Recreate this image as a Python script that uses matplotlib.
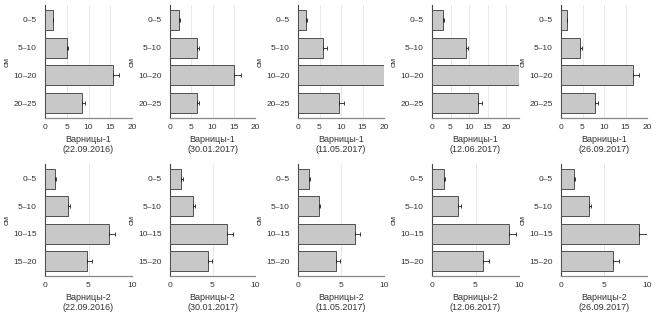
import matplotlib
matplotlib.use("Agg")
import matplotlib.pyplot as plt
import numpy as np

plt.rcParams["font.family"] = ["Liberation Sans", "DejaVu Sans"]

# ── Data ─────────────────────────────────────────────────────────────────────
dates = ["22.09.2016", "30.01.2017", "11.05.2017", "12.06.2017", "26.09.2017"]

site1_name = "Варницы-1"
site1_depths = ["0–5", "5–10", "10–20", "20–25"]
site1_means = [
    [1.75, 5.1, 15.7, 8.4],
    [2.1, 6.3, 15.1, 6.3],
    [1.95, 5.85, 20.0, 9.6],
    [3.0, 9.05, 23.5, 12.3],
    [1.3, 4.4, 16.7, 7.9],
]
site1_errs = [
    [0.2, 0.3, 1.4, 0.9],
    [0.2, 0.5, 1.5, 0.6],
    [0.2, 0.8, 0.0, 1.1],
    [0.25, 0.8, 0.0, 1.3],
    [0.2, 0.5, 1.5, 0.8],
]
site1_xmax = [20, 20, 20, 23.5, 20]

site2_name = "Варницы-2"
site2_depths = ["0–5", "5–10", "10–15", "15–20"]
site2_means = [
    [1.2, 2.7, 7.3, 4.85],
    [1.35, 2.65, 6.7, 4.45],
    [1.25, 2.4, 6.6, 4.4],
    [1.4, 3.0, 8.8, 5.85],
    [1.55, 3.2, 9.1, 6.05],
]
site2_errs = [
    [0.05, 0.2, 0.8, 0.5],
    [0.2, 0.25, 0.75, 0.45],
    [0.1, 0.2, 0.65, 0.45],
    [0.15, 0.35, 0.9, 0.65],
    [0.1, 0.3, 1.0, 0.65],
]
site2_xmax = [10, 10, 10, 10, 10]

W, H = 658, 319
col_lr = [(45, 132), (170, 255), (298, 384), (432, 519), (561, 647)]
row_tb = [(5, 118), (164, 276)]

C_BAR = "#c8c8c8"
C_EDGE = "#505050"
C_GRID = "#e4e4e4"

fig = plt.figure(figsize=(W / 100, H / 100), dpi=100, facecolor="white")

rows = [
    (site1_name, site1_depths, site1_means, site1_errs, site1_xmax, [0, 5, 10, 15, 20]),
    (site2_name, site2_depths, site2_means, site2_errs, site2_xmax, [0, 5, 10]),
]

for r, (name, depths, means, errs, xmaxes, ticks) in enumerate(rows):
    top, bot = row_tb[r]
    for c, (left, right) in enumerate(col_lr):
        ax = fig.add_axes([left / W, 1 - bot / H, (right - left) / W, (bot - top) / H])
        y = np.arange(len(depths))
        vals = np.array(means[c])
        err = np.array(errs[c])
        ax.barh(y, vals, height=0.72, color=C_BAR, edgecolor=C_EDGE,
                linewidth=0.7, zorder=3)
        m = err > 0
        ax.errorbar(vals[m], y[m], xerr=[np.zeros(m.sum()), err[m]], fmt="none",
                    ecolor="#222222", elinewidth=0.6, capsize=1.6,
                    capthick=0.6, zorder=4)
        ax.set_xlim(0, xmaxes[c])
        ax.set_ylim(len(depths) - 0.46, -0.54)
        ax.set_yticks(y)
        ax.set_yticklabels(depths)
        ax.set_xticks(ticks)
        ax.tick_params(length=0, labelsize=6, colors="#333333")
        ax.tick_params(axis="y", pad=6)
        ax.tick_params(axis="x", pad=4)
        ax.xaxis.grid(True, color=C_GRID, linewidth=0.6, zorder=0)
        ax.set_axisbelow(True)
        for s in ["top", "right"]:
            ax.spines[s].set_visible(False)
        ax.spines["left"].set_color("#444444")
        ax.spines["left"].set_linewidth(0.8)
        ax.spines["bottom"].set_color("#888888")
        ax.spines["bottom"].set_linewidth(0.9)
        ax.set_ylabel("см", fontsize=6, color="#333333", labelpad=2)
        ax.set_xlabel(f"{name}\n({dates[c]})", fontsize=6.5, color="#333333",
                      labelpad=3, linespacing=1.15)

fig.savefig("out.png", dpi=100, facecolor="white")
